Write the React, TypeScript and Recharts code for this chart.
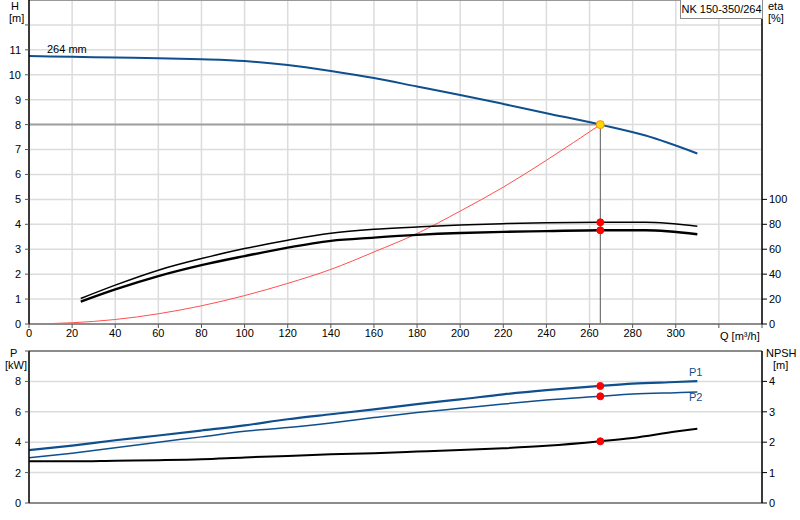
import {
  CartesianGrid,
  ComposedChart,
  Line,
  ReferenceDot,
  ReferenceLine,
  XAxis,
  YAxis,
} from "recharts";

// Q [m³/h] grid
const qTicks = [0, 20, 40, 60, 80, 100, 120, 140, 160, 180, 200, 220, 240, 260, 280, 300, 320, 340];

// head curve (264 mm impeller)
const qHead = [0, 20, 40, 60, 80, 100, 120, 140, 160, 180, 200, 220, 240, 265, 286, 310];
const headValues = [10.75, 10.72, 10.69, 10.66, 10.62, 10.55, 10.39, 10.15, 9.87, 9.53, 9.19, 8.83, 8.46, 8.0, 7.56, 6.84];

// efficiency curves
const qEta = [24, 40, 60, 80, 100, 120, 140, 160, 180, 200, 220, 240, 265, 286, 310];
const etaPump = [20.5, 31.2, 43.2, 52.5, 60.5, 67.2, 72.8, 76, 77.9, 79.5, 80.5, 81.3, 81.6, 81.6, 78.4];
const etaTotal = [17.9, 27.7, 38.4, 47.2, 54.5, 61.3, 66.7, 69.3, 71.5, 73, 73.9, 74.5, 75.2, 75.2, 72];

// system curve
const qSystem = [0, 20, 40, 60, 80, 100, 120, 140, 160, 180, 200, 220, 240, 265];
const systemHead = [0, 0.05, 0.18, 0.41, 0.73, 1.14, 1.63, 2.19, 2.89, 3.63, 4.53, 5.49, 6.57, 8.0];

// power + NPSH
const qPower = [0, 20, 40, 60, 80, 100, 120, 140, 160, 180, 200, 220, 240, 265, 280, 300, 310];
const p1Values = [3.48, 3.78, 4.13, 4.44, 4.77, 5.11, 5.51, 5.84, 6.16, 6.51, 6.82, 7.15, 7.42, 7.7, 7.85, 7.96, 8.02];
const p2Values = [2.97, 3.28, 3.63, 4.0, 4.35, 4.72, 4.96, 5.27, 5.62, 5.95, 6.23, 6.51, 6.77, 7.02, 7.17, 7.26, 7.3];
const npshValues = [1.37, 1.37, 1.39, 1.41, 1.44, 1.5, 1.55, 1.6, 1.64, 1.69, 1.74, 1.8, 1.88, 2.03, 2.14, 2.35, 2.44];

// duty point
const dutyQ = 265;
const dutyHead = 8.0;
const dutyEta = [81.6, 75.2];
const dutyPower = [7.7, 7.02];
const dutyNpsh = 2.03;

const headTicks = [0, 1, 2, 3, 4, 5, 6, 7, 8, 9, 10, 11, 12];
const etaTicks = [0, 20, 40, 60, 80, 100];
const powerTicks = [0, 2, 4, 6, 8, 10];
const npshTicks = [0, 1, 2, 3, 4];

const pairs = (xs: number[], ys: number[]) => xs.map((q, i) => ({ q, v: ys[i] }));

const FONT = "'Liberation Sans', Arial, sans-serif";
const BLUE = "#0f4f8e";
const tickStyle = { fill: "#000", fontSize: 11, fontFamily: FONT };

const label = (left: number, top: number, text: string, extra: React.CSSProperties = {}) => (
  <div
    style={{
      position: "absolute",
      left,
      top,
      fontSize: 11,
      fontFamily: FONT,
      lineHeight: "12px",
      whiteSpace: "nowrap",
      ...extra,
    }}
  >
    {text}
  </div>
);

function HeadChart() {
  return (
    <ComposedChart width={800} height={345} margin={{ top: 0, right: 0, bottom: 0, left: 0 }}>
      <CartesianGrid yAxisId="h" xAxisId="q" stroke="#dcdcdc" strokeWidth={1.5} />
      <XAxis
        xAxisId="q"
        dataKey="q"
        type="number"
        domain={[0, 340]}
        ticks={qTicks}
        interval={0}
        height={21}
        tick={tickStyle}
        tickFormatter={(v: number) => (v <= 300 ? String(v) : "")}
        tickSize={4}
        tickMargin={1}
        axisLine={{ stroke: "#8c8c8c", strokeWidth: 2 }}
        tickLine={{ stroke: "#555" }}
      />
      <YAxis
        yAxisId="h"
        orientation="left"
        width={29}
        type="number"
        domain={[0, 13]}
        ticks={headTicks}
        interval={0}
        tick={tickStyle}
        tickFormatter={(v: number) => (v <= 11 ? String(v) : "")}
        tickSize={4}
        tickMargin={4}
        axisLine={{ stroke: "#000", strokeWidth: 1.5 }}
        tickLine={{ stroke: "#555" }}
      />
      <YAxis
        yAxisId="eta"
        orientation="right"
        width={38}
        type="number"
        domain={[0, 260]}
        ticks={etaTicks}
        interval={0}
        tick={tickStyle}
        tickSize={5}
        tickMargin={2}
        axisLine={{ stroke: "#000", strokeWidth: 1.5 }}
        tickLine={{ stroke: "#000" }}
      />
      <ReferenceLine xAxisId="q" yAxisId="h" y={13} stroke="#999" strokeWidth={2} />
      <ReferenceLine
        xAxisId="q"
        yAxisId="h"
        segment={[{ x: 0, y: dutyHead }, { x: dutyQ, y: dutyHead }]}
        stroke="#a0a0a0"
        strokeWidth={2}
      />
      <ReferenceLine
        xAxisId="q"
        yAxisId="h"
        segment={[{ x: dutyQ, y: 0 }, { x: dutyQ, y: dutyHead }]}
        stroke="#555"
        strokeWidth={1}
      />
      <Line
        xAxisId="q"
        yAxisId="h"
        data={pairs(qSystem, systemHead)}
        dataKey="v"
        type="monotone"
        stroke="#ff5050"
        strokeWidth={1}
        dot={false}
        isAnimationActive={false}
      />
      <Line
        xAxisId="q"
        yAxisId="eta"
        data={pairs(qEta, etaPump)}
        dataKey="v"
        type="monotone"
        stroke="#000"
        strokeWidth={1.5}
        dot={false}
        isAnimationActive={false}
      />
      <Line
        xAxisId="q"
        yAxisId="eta"
        data={pairs(qEta, etaTotal)}
        dataKey="v"
        type="monotone"
        stroke="#000"
        strokeWidth={2.4}
        dot={false}
        isAnimationActive={false}
      />
      <Line
        xAxisId="q"
        yAxisId="h"
        data={pairs(qHead, headValues)}
        dataKey="v"
        type="monotone"
        stroke={BLUE}
        strokeWidth={2}
        dot={false}
        isAnimationActive={false}
      />
      {dutyEta.map((e, i) => (
        <ReferenceDot key={i} xAxisId="q" yAxisId="eta" x={dutyQ} y={e} r={3.5} fill="#ff0000" stroke="#ff0000" />
      ))}
      <ReferenceDot xAxisId="q" yAxisId="h" x={dutyQ} y={dutyHead} r={4} fill="#ffd800" stroke="#ff8c1a" strokeWidth={1} />
    </ComposedChart>
  );
}

function PowerChart() {
  return (
    <ComposedChart width={800} height={175} margin={{ top: 6, right: 0, bottom: 0, left: 0 }}>
      <CartesianGrid yAxisId="p" xAxisId="q" stroke="#dcdcdc" strokeWidth={1.5} />
      <XAxis
        xAxisId="q"
        dataKey="q"
        type="number"
        domain={[0, 340]}
        ticks={qTicks}
        interval={0}
        height={17}
        tick={false}
        tickLine={false}
        axisLine={{ stroke: "#8c8c8c", strokeWidth: 2 }}
      />
      <YAxis
        yAxisId="p"
        orientation="left"
        width={29}
        type="number"
        domain={[0, 10]}
        ticks={powerTicks}
        interval={0}
        tick={tickStyle}
        tickFormatter={(v: number) => (v <= 8 ? String(v) : "")}
        tickSize={4}
        tickMargin={4}
        axisLine={{ stroke: "#000", strokeWidth: 1.5 }}
        tickLine={{ stroke: "#555" }}
      />
      <YAxis
        yAxisId="npsh"
        orientation="right"
        width={38}
        type="number"
        domain={[0, 5]}
        ticks={npshTicks}
        interval={0}
        tick={tickStyle}
        tickSize={5}
        tickMargin={2}
        axisLine={{ stroke: "#000", strokeWidth: 1.5 }}
        tickLine={{ stroke: "#000" }}
      />
      <ReferenceLine xAxisId="q" yAxisId="p" y={10} stroke="#8c8c8c" strokeWidth={2} />
      <Line
        xAxisId="q"
        yAxisId="npsh"
        data={pairs(qPower, npshValues)}
        dataKey="v"
        type="monotone"
        stroke="#000"
        strokeWidth={2}
        dot={false}
        isAnimationActive={false}
      />
      <Line
        xAxisId="q"
        yAxisId="p"
        data={pairs(qPower, p2Values)}
        dataKey="v"
        type="monotone"
        stroke={BLUE}
        strokeWidth={1.5}
        dot={false}
        isAnimationActive={false}
      />
      <Line
        xAxisId="q"
        yAxisId="p"
        data={pairs(qPower, p1Values)}
        dataKey="v"
        type="monotone"
        stroke={BLUE}
        strokeWidth={2.2}
        dot={false}
        isAnimationActive={false}
      />
      {dutyPower.map((p, i) => (
        <ReferenceDot key={i} xAxisId="q" yAxisId="p" x={dutyQ} y={p} r={3.5} fill="#ff0000" stroke="#ff0000" />
      ))}
      <ReferenceDot xAxisId="q" yAxisId="npsh" x={dutyQ} y={dutyNpsh} r={3.5} fill="#ff0000" stroke="#ff0000" />
    </ComposedChart>
  );
}

export default function App() {
  return (
    <div style={{ position: "absolute", left: 0, top: 0, width: 800, height: 520, background: "#fff", overflow: "hidden" }}>
      <div style={{ position: "absolute", left: 0, top: 0 }}>
        <HeadChart />
      </div>
      <div style={{ position: "absolute", left: 0, top: 345 }}>
        <PowerChart />
      </div>
      {label(11, 0, "H")}
      {label(9, 12, "[m]")}
      {label(768, 0, "eta")}
      {label(768, 12, "[%]")}
      {label(720, 330, "Q [m³/h]")}
      {label(47, 43, "264 mm")}
      <div
        style={{
          position: "absolute",
          left: 680,
          top: 0,
          width: 81,
          height: 18,
          border: "1px solid #8c8c8c",
          borderTop: "none",
          background: "#fff",
          fontSize: 11,
          fontFamily: FONT,
          lineHeight: "18px",
          textAlign: "center",
        }}
      >
        NK 150-350/264
      </div>
      {label(10, 347, "P")}
      {label(5, 359, "[kW]")}
      {label(766, 347, "NPSH")}
      {label(773, 359, "[m]")}
      {label(689, 366, "P1", { color: BLUE })}
      {label(689, 391, "P2", { color: BLUE })}
    </div>
  );
}
